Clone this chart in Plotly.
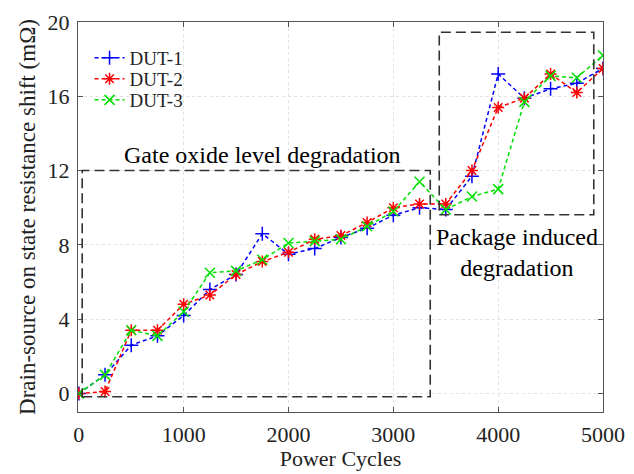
import plotly.graph_objects as go

# Power cycle checkpoints and on-state resistance shift (mOhm) per device
cycles = [0, 250, 500, 750, 1000, 1250, 1500, 1750, 2000, 2250, 2500,
          2750, 3000, 3250, 3500, 3750, 4000, 4250, 4500, 4750, 5000]
dut1 = [0, 1.0, 2.6, 3.1, 4.2, 5.6, 6.4, 8.6, 7.5, 7.8, 8.4,
        8.9, 9.6, 10.0, 9.9, 11.7, 17.2, 15.9, 16.4, 16.7, 17.5]
dut2 = [0, 0.1, 3.4, 3.4, 4.8, 5.3, 6.4, 7.1, 7.6, 8.3, 8.5,
        9.2, 10.0, 10.2, 10.2, 12.0, 15.4, 15.9, 17.2, 16.2, 17.5]
dut3 = [0, 1.0, 3.4, 3.1, 4.4, 6.5, 6.6, 7.2, 8.1, 8.2, 8.3,
        9.0, 9.8, 11.4, 9.9, 10.6, 11.0, 15.7, 17.1, 17.0, 18.2]

x_ticks = [0, 1000, 2000, 3000, 4000, 5000]
y_ticks = [0, 4, 8, 12, 16, 20]

FONT = "Liberation Serif, Times New Roman, serif"

series = [
    ("DUT-1", dut1, "#0000ff", "cross-thin-open", "legend"),
    ("DUT-2", dut2, "#ff0000", "asterisk-open", "legend2"),
    ("DUT-3", dut3, "#00e000", "x-thin-open", "legend3"),
]

fig = go.Figure()
for name, vals, color, symbol, leg in series:
    fig.add_trace(go.Scatter(
        x=cycles, y=vals, name=name, mode="lines+markers", legend=leg,
        line=dict(color=color, width=1.5, dash="4px,3px"),
        marker=dict(symbol=symbol, size=10, color=color,
                    line=dict(color=color, width=1.5)),
    ))

# Region boxes
box_line = dict(color="#333333", width=1.6, dash="10px,5px")
fig.add_shape(type="rect", xref="x", yref="y", x0=32, x1=3352, y0=-0.18, y1=12.0,
              line=box_line, layer="above")
fig.add_shape(type="rect", xref="x", yref="y", x0=3438, x1=4912, y0=9.62, y1=19.45,
              line=box_line, layer="above")

fig.add_annotation(x=1748, y=12.85, xref="x", yref="y", showarrow=False,
                   text="Gate oxide level degradation",
                   font=dict(family=FONT, size=24, color="black"))
fig.add_annotation(x=4183, y=7.58, xref="x", yref="y", showarrow=False,
                   text="Package induced<br>degradation",
                   font=dict(family=FONT, size=24, color="black"))

axis_common = dict(
    showline=True, linecolor="#555555", linewidth=1.2, mirror="ticks",
    ticks="inside", ticklen=5, tickcolor="#555555", tickwidth=1,
    showgrid=True, gridcolor="#e2e2e2", griddash="dot", gridwidth=1,
    zeroline=False, automargin=False,
    tickfont=dict(family=FONT, size=22, color="#222222"),
)

fig.update_xaxes(range=[-8, 5000], tickvals=x_ticks, ticklabelstandoff=2,
                 title=dict(text="Power Cycles", standoff=1,
                            font=dict(family=FONT, size=22, color="#222222")),
                 **axis_common)
fig.update_yaxes(range=[-1, 20], tickvals=y_ticks, ticklabelstandoff=3,
                 title=dict(text="Drain-source on state resistance shift (mΩ)", standoff=5,
                            font=dict(family=FONT, size=23, color="#222222")),
                 **axis_common)

legend_style = dict(x=0.022, xanchor="left", yanchor="middle",
                    bgcolor="rgba(0,0,0,0)", borderwidth=0,
                    font=dict(family=FONT, size=19, color="#222222"),
                    itemwidth=30)
fig.update_layout(
    width=634, height=474,
    margin=dict(l=78, r=31, t=22, b=62, autoexpand=False),
    paper_bgcolor="white", plot_bgcolor="white",
    showlegend=True,
    legend=dict(y=0.908, **legend_style),
    legend2=dict(y=0.854, **legend_style),
    legend3=dict(y=0.800, **legend_style),
)

fig.write_html("out.html")
